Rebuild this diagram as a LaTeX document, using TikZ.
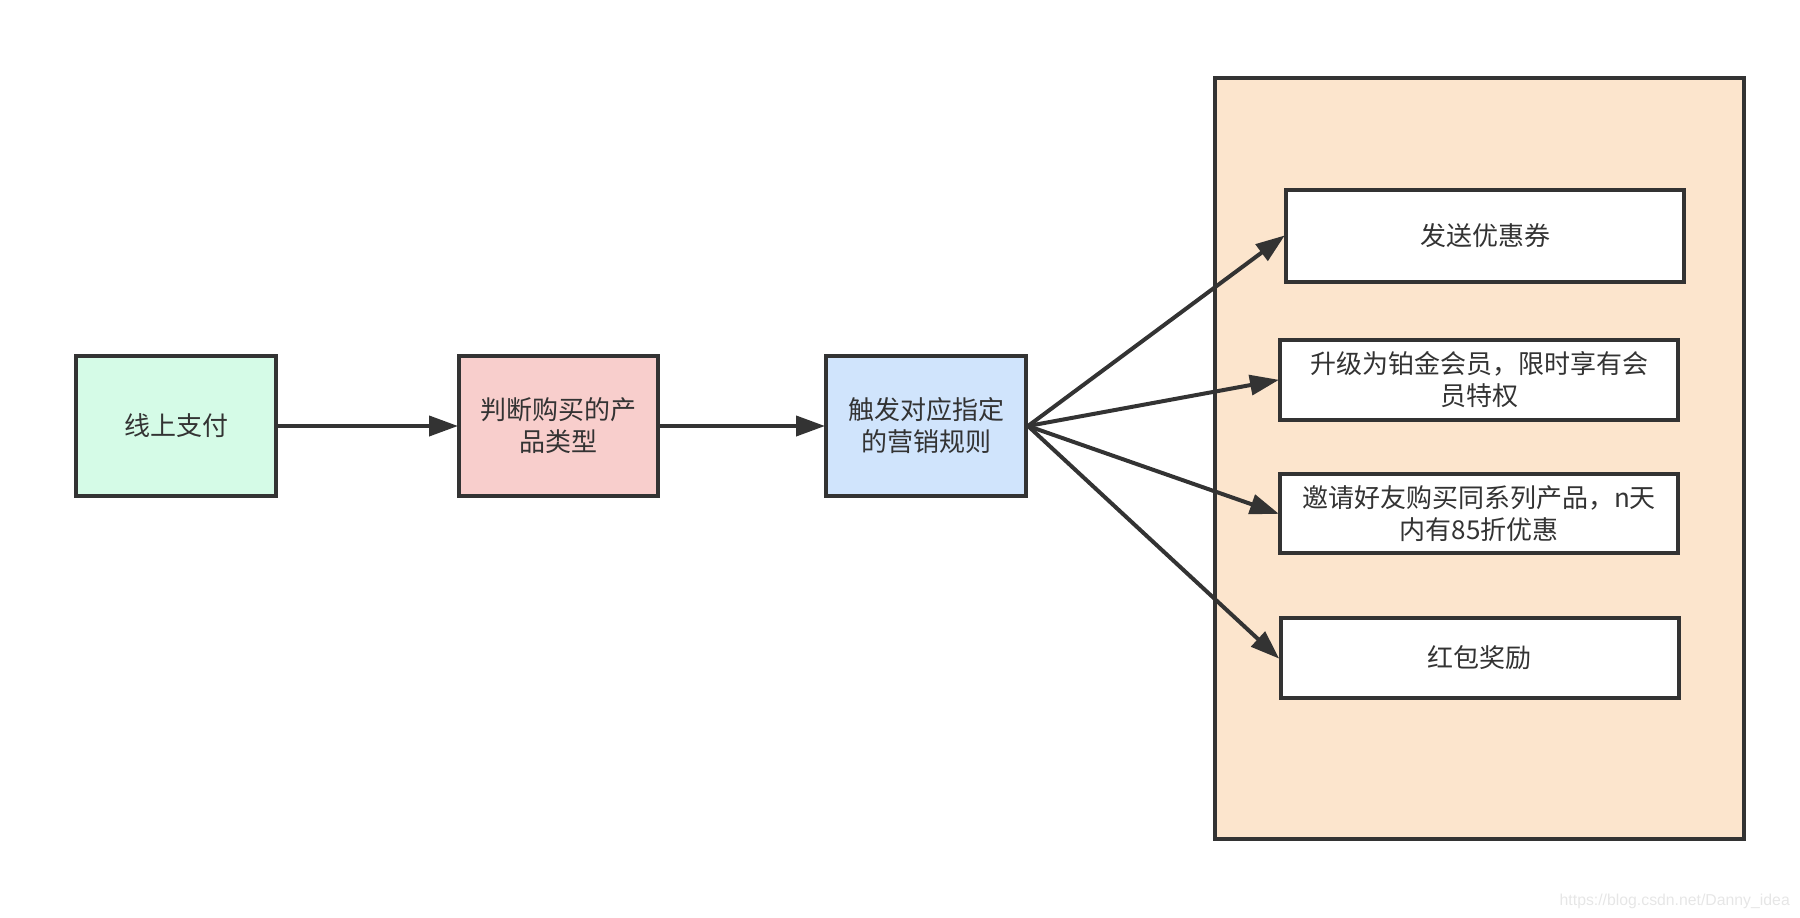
\documentclass[tikz,border=0pt]{standalone}
\usepackage{fontspec}
\setmainfont{Noto Sans CJK SC}
\newfontfamily\wmfont{Liberation Sans}
\usetikzlibrary{arrows.meta}
\definecolor{linec}{HTML}{333333}
\definecolor{greenf}{HTML}{D5FBE7}
\definecolor{pinkf}{HTML}{F8CECC}
\definecolor{bluef}{HTML}{D0E4FC}
\definecolor{peachf}{HTML}{FCE5CD}
\definecolor{wmc}{HTML}{E6E6E6}
\tikzset{
  box/.style={draw=linec, line width=4pt, rectangle, inner sep=0pt, align=center,
    text=linec, font=\fontsize{26}{32}\selectfont},
  flow/.style={draw=linec, line width=4pt, -{Triangle[length=29pt,width=20pt]}, shorten >=-1pt},
}
\begin{document}
\begin{tikzpicture}[x=1pt,y=-1pt]
\useasboundingbox (0,0) rectangle (1800,918);
\node[box, fill=peachf, minimum width=529pt, minimum height=761pt] (group) at (1479.5,458.5) {};
\node[box, fill=greenf, minimum width=200pt, minimum height=140pt] (pay) at (176,426) {线上支付};
\node[box, fill=pinkf, minimum width=199pt, minimum height=140pt] (judge) at (558.5,426) {判断购买的产\\品类型};
\node[box, fill=bluef, minimum width=200pt, minimum height=140pt] (rule) at (926,426) {触发对应指定\\的营销规则};
\node[box, fill=white, minimum width=398pt, minimum height=92pt] (r1) at (1485,236) {发送优惠券};
\node[box, fill=white, minimum width=398pt, minimum height=80pt] (r2) at (1479,380) {升级为铂金会员，限时享有会\\员特权};
\node[box, fill=white, minimum width=398pt, minimum height=79pt] (r3) at (1479,513.5) {邀请好友购买同系列产品，n天\\内有85折优惠};
\node[box, fill=white, minimum width=398pt, minimum height=80pt] (r4) at (1479.5,658) {红包奖励};
\draw[flow] (pay.east) -- (judge.west);
\draw[flow] (judge.east) -- (rule.west);
\draw[flow] (rule.east) -- (r1.west);
\draw[flow] (rule.east) -- (r2.west);
\draw[flow] (rule.east) -- (r3.west);
\draw[flow] (rule.east) -- (r4.west);
\node[anchor=base east, inner sep=0pt, text=wmc, font=\wmfont\fontsize{15.8}{18}\selectfont] (wm) at (1790,905) {https://blog.csdn.net/Danny\_idea};
\end{tikzpicture}
\end{document}
